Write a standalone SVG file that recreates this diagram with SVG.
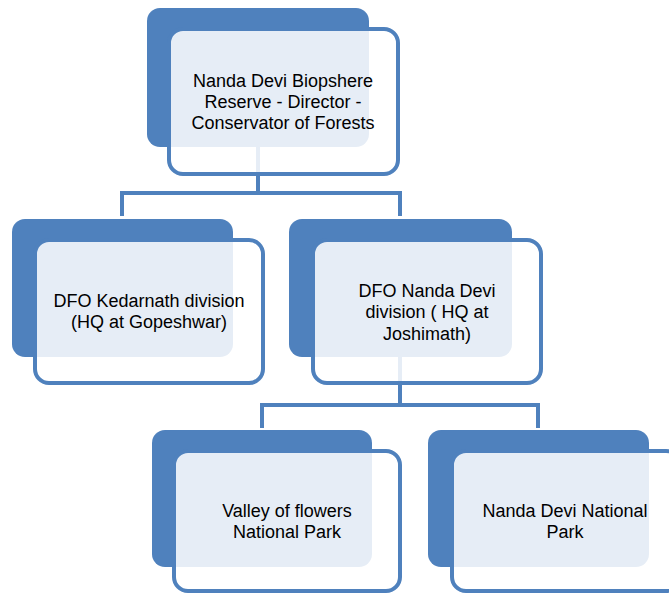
<svg xmlns="http://www.w3.org/2000/svg" width="669" height="597" viewBox="0 0 669 597">
<style>
.back{fill:#4F81BD;}
.front{fill:#ffffff;fill-opacity:0.86;stroke:#4F81BD;stroke-width:4;}
.conn{fill:none;stroke:#4F81BD;stroke-width:4;}
text{font-family:"Liberation Sans",Arial,sans-serif;font-size:18px;fill:#000;text-anchor:middle;}
</style>
<rect width="669" height="597" fill="#ffffff"/>
<g id="connectors">
<path class="conn" d="M258,147 V193 M122,216 V193 H400 V216"/>
<path class="conn" d="M400,357 V405 M262,428 V405 H538 V428"/>
</g>
<g id="node-director">
<rect class="back" x="147" y="8" width="222" height="139" rx="13"/>
<rect class="front" x="169" y="29" width="229" height="145" rx="14"/>
<text x="283" y="87">Nanda Devi Biopshere</text>
<text x="283" y="108">Reserve - Director -</text>
<text x="283" y="129">Conservator of Forests</text>
</g>
<g id="node-kedarnath">
<rect class="back" x="12" y="219" width="221" height="138" rx="13"/>
<rect class="front" x="35" y="240" width="228" height="143" rx="14"/>
<text x="149" y="307">DFO Kedarnath division</text>
<text x="149" y="328">(HQ at Gopeshwar)</text>
</g>
<g id="node-nandadevi-division">
<rect class="back" x="289" y="219" width="223" height="138" rx="13"/>
<rect class="front" x="313" y="240" width="228" height="143" rx="14"/>
<text x="427" y="297">DFO Nanda Devi</text>
<text x="427" y="318">division ( HQ at</text>
<text x="427" y="340">Joshimath)</text>
</g>
<g id="node-valley">
<rect class="back" x="152" y="430" width="220" height="137" rx="13"/>
<rect class="front" x="174" y="451" width="226" height="140" rx="14"/>
<text x="287" y="517">Valley of flowers</text>
<text x="287" y="538">National Park</text>
</g>
<g id="node-nandadevi-park">
<rect class="back" x="428" y="430" width="221" height="137" rx="13"/>
<rect class="front" x="452" y="451" width="228" height="140" rx="14"/>
<text x="565" y="517">Nanda Devi National</text>
<text x="565" y="538">Park</text>
</g>
</svg>
